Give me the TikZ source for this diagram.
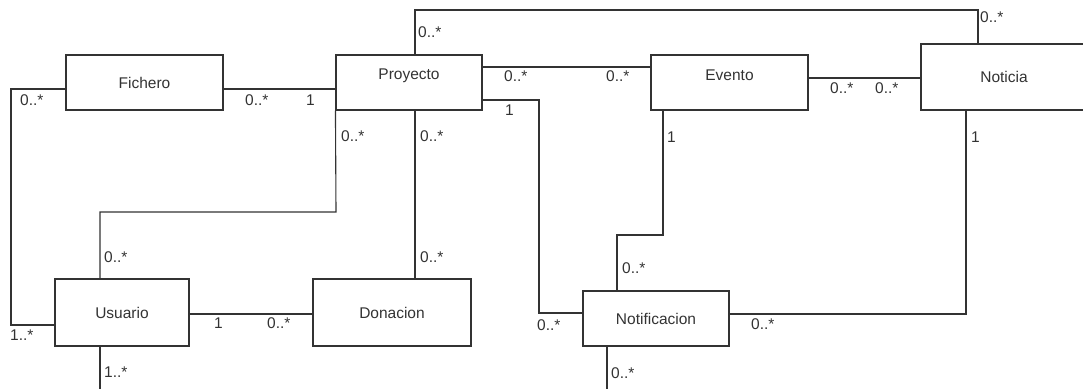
\documentclass[tikz,border=0pt]{standalone}
\usepackage{fontspec}
\setmainfont{Liberation Sans}
\begin{document}
\begin{tikzpicture}[x=1pt,y=-1pt,
  every node/.style={font=\fontsize{15.5}{18}\selectfont, text=black!80,
    text height=11.1pt, text depth=0pt},
  cls/.style={draw=black!80, line width=1.1pt, fill=white, inner sep=0pt},
  mult/.style={anchor=west, inner sep=0pt},
  assoc/.style={draw=black!80, line width=1.1pt},
]
\clip (0,0) rectangle (1083,389);

% classes
\node[cls, minimum width=157pt, minimum height=55pt] (fichero) at (144.5,82.5) {Fichero};
\node[cls, minimum width=146pt, minimum height=55pt] (proyecto) at (409,82.5) {\raisebox{8.5pt}{Proyecto}};
\node[cls, minimum width=157pt, minimum height=55pt] (evento) at (729.5,82.5) {\raisebox{8pt}{Evento}};
\node[cls, minimum width=166pt, minimum height=66pt] (noticia) at (1004,77) {Noticia};
\node[cls, minimum width=134pt, minimum height=67pt] (usuario) at (122,312.5) {Usuario};
\node[cls, minimum width=158pt, minimum height=67pt] (donacion) at (392,312.5) {Donacion};
\node[cls, minimum width=146pt, minimum height=55pt] (notificacion) at (656,318.5) {Notificacion};

% loose ends running off the bottom
\coordinate (usuarioend) at (100,389);
\coordinate (notifend) at (607,389);

% associations
\draw[assoc] (fichero.east |- 0,89) -- (proyecto.west |- 0,89);
\draw[assoc] (fichero.west |- 0,89) -- (11,89) -- (11,325) -- (usuario.west |- 0,325);
\draw[assoc] (usuario.north -| 100,0) -- (100,212) -- (336,212) -- (proyecto.south west);
\draw[assoc] (donacion.north -| 415,0) -- (proyecto.south -| 415,0);
\draw[assoc] (usuario.east |- 0,314) -- (donacion.west |- 0,314);
\draw[assoc] (usuario.south -| 100,0) -- (usuarioend);
\draw[assoc] (proyecto.north -| 415,0) -- (415,10) -- (978,10) -- (noticia.north -| 978,0);
\draw[assoc] (proyecto.east |- 0,67) -- (evento.west |- 0,67);
\draw[assoc] (evento.east |- 0,78) -- (noticia.west |- 0,78);
\draw[assoc] (proyecto.east |- 0,100) -- (539,100) -- (539,313) -- (notificacion.west |- 0,313);
\draw[assoc] (evento.south -| 663,0) -- (663,235) -- (617,235) -- (notificacion.north -| 617,0);
\draw[assoc] (noticia.south -| 966,0) -- (966,314) -- (notificacion.east |- 0,314);
\draw[assoc] (notificacion.south -| 607,0) -- (notifend);

% multiplicities
\node[mult] (m1)  at (20,100)  {0..*};
\node[mult] (m2)  at (245,100) {0..*};
\node[mult] (m3)  at (306,100) {1};
\node[mult] (m4)  at (10,335)  {1..*};
\node[mult] (m5)  at (104,257) {0..*};
\node[mult] (m6)  at (341,136) {0..*};
\node[mult] (m7)  at (420,136) {0..*};
\node[mult] (m8)  at (420,257) {0..*};
\node[mult] (m9)  at (214,323) {1};
\node[mult] (m10) at (267,323) {0..*};
\node[mult] (m11) at (104,372) {1..*};
\node[mult] (m12) at (418,32)  {0..*};
\node[mult] (m13) at (980,17)  {0..*};
\node[mult] (m14) at (504,76)  {0..*};
\node[mult] (m15) at (606,76)  {0..*};
\node[mult] (m16) at (830,88)  {0..*};
\node[mult] (m17) at (875,88)  {0..*};
\node[mult] (m18) at (505,110) {1};
\node[mult] (m19) at (537,325) {0..*};
\node[mult] (m20) at (667,137) {1};
\node[mult] (m21) at (622,268) {0..*};
\node[mult] (m22) at (971,137) {1};
\node[mult] (m23) at (751,324) {0..*};
\node[mult] (m24) at (611,373) {0..*};
\end{tikzpicture}
\end{document}
